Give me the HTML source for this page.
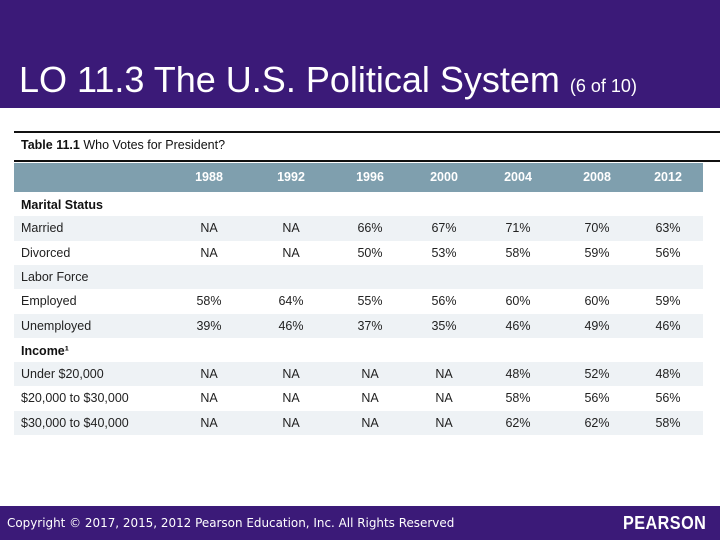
<!DOCTYPE html>
<html><head><meta charset="utf-8"><style>
body{margin:0;width:720px;height:540px;position:relative;overflow:hidden;background:#fff;font-family:"Liberation Sans",sans-serif}
.hdr{position:absolute;left:0;top:0;width:720px;height:108px;background:#3b1a78}
.title{position:absolute;left:19px;top:59px;color:#fff;font-size:36px;white-space:nowrap}
.title small{font-size:18px}
.line{position:absolute;left:14px;width:706px;height:2px;background:#111}
.cap{position:absolute;left:21px;top:138px;font-size:12.5px;color:#111}
.band{position:absolute;left:14px;width:689px}
.c{position:absolute;font-size:12.5px;color:#222;transform:translateX(-50%)}
.l{position:absolute;left:21px;font-size:12.5px;color:#222}
.ftr{position:absolute;left:0;top:506px;width:720px;height:34px;background:#3b1a78}
.copy{position:absolute;left:7px;top:516px;color:#fff;font-size:12.2px;font-family:"DejaVu Sans",sans-serif;white-space:nowrap;transform:scaleX(0.98);transform-origin:left}
.logo{position:absolute;left:623px;top:513px;color:#fff;font-size:18px;font-weight:bold;letter-spacing:0.5px;transform:scaleX(0.9);transform-origin:left;white-space:nowrap}
</style></head><body>
<div class="hdr"></div>
<div class="title">LO 11.3 The U.S. Political System <small>(6 of 10)</small></div>
<div class="line" style="top:131px"></div>
<div class="cap"><b>Table 11.1</b> Who Votes for President?</div>
<div class="line" style="top:160px"></div>
<div id="tbl"></div>
<div class="ftr"></div>
<div class="copy">Copyright © 2017, 2015, 2012 Pearson Education, Inc. All Rights Reserved</div>
<div class="logo">PEARSON</div>
<script>
const years=["1988","1992","1996","2000","2004","2008","2012"];
const rowLabels=["Marital Status","Married","Divorced","Labor Force","Employed","Unemployed","Income¹","Under $20,000","$20,000 to $30,000","$30,000 to $40,000"];
const boldRows=[0,6];
const values=[null,["NA","NA","66%","67%","71%","70%","63%"],["NA","NA","50%","53%","58%","59%","56%"],null,
["58%","64%","55%","56%","60%","60%","59%"],["39%","46%","37%","35%","46%","49%","46%"],null,
["NA","NA","NA","NA","48%","52%","48%"],["NA","NA","NA","NA","58%","56%","56%"],["NA","NA","NA","NA","62%","62%","58%"]];
const colX=[209,291,370,444,518,597,668];
const t=document.getElementById('tbl');
function add(cls,style,txt,name){const d=document.createElement('div');d.className=cls;d.style.cssText=style;if(txt!==undefined)d.textContent=txt;


t.appendChild(d);return d;}
add('band','top:163px;height:29px;background:#7f9fae',undefined,'header-band');
years.forEach((y,i)=>add('c',`left:${colX[i]}px;top:170px;color:#fff;font-weight:bold`,y,'year-header'));
const rh=24.3,top0=192;
rowLabels.forEach((lab,r)=>{
 const y=top0+r*rh;
 if(r%2==1)add('band',`top:${y}px;height:${rh}px;background:#eef2f5`,undefined,'row-band');
 add('l',`top:${y+5}px;${boldRows.includes(r)?'font-weight:bold;color:#111;top:'+(y+6)+'px':''}`,lab,'row-label');
 if(values[r])values[r].forEach((v,i)=>add('c',`left:${colX[i]}px;top:${y+5}px`,v,'cell-value'));
});
</script>
</body></html>
